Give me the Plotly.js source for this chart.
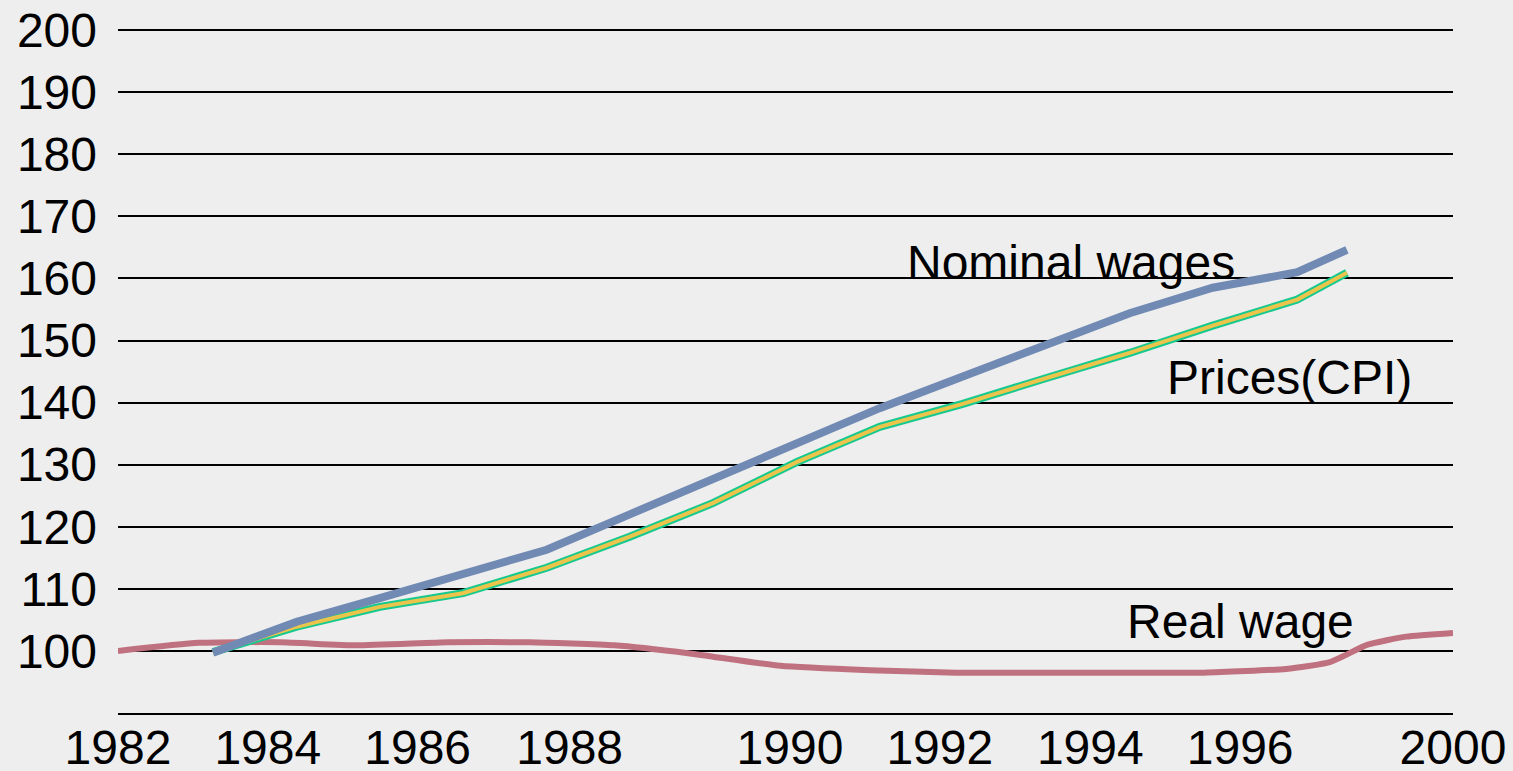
<!DOCTYPE html>
<html>
<head>
<meta charset="utf-8">
<script src="https://cdn.plot.ly/plotly-3.0.1.min.js"></script>
<style>
  html, body { margin: 0; padding: 0; background: #eeeeee; }
  #chart { width: 1513px; height: 771px; }
</style>
</head>
<body>
<div id="chart"></div>
<script>
// Nominal wages and CPI share the same x positions (axis units)
const wageYears = [1983.28, 1984.41, 1985.53, 1986.65, 1987.78, 1988.90, 1990.02, 1991.15, 1992.27, 1993.39, 1994.53, 1995.64, 1996.76, 1997.90, 1998.57];
const nominalWages = [99.7, 104.7, 108.5, 112.4, 116.3, 122.0, 127.7, 133.4, 139.1, 144.2, 149.3, 154.4, 158.5, 161.0, 164.6];
const cpi = [99.8, 103.9, 107.1, 109.3, 113.4, 118.4, 123.8, 130.4, 136.1, 139.8, 144.0, 148.0, 152.4, 156.6, 160.9];

const realYears = [1982.00, 1983.09, 1984.18, 1985.21, 1986.46, 1987.55, 1988.69, 1989.71, 1990.93, 1992.14, 1993.30, 1995.24, 1996.64, 1997.75, 1998.34, 1998.85, 1999.37, 2000.00];
const realWage = [100.0, 101.3, 101.4, 100.9, 101.4, 101.4, 100.9, 99.6, 97.6, 96.9, 96.5, 96.5, 96.5, 97.1, 98.2, 101.0, 102.3, 102.9];

// x tick labels as printed on the original (unevenly placed, 1998 not printed)
const xTickLabels = ["1982", "1984", "1986", "1988", "1990", "1992", "1994", "1996", "2000"];
const xTickAt = [1982.00, 1984.02, 1986.04, 1988.09, 1991.06, 1993.08, 1995.11, 1997.13, 2000.00];
const yTicks = [100, 110, 120, 130, 140, 150, 160, 170, 180, 190, 200];

const seriesLabels = ["Nominal wages", "Prices(CPI)", "Real wage"];

const traces = [
  { x: realYears, y: realWage, mode: 'lines', line: { color: '#c0717f', width: 6, shape: 'spline', smoothing: 0.5 }, name: seriesLabels[2] },
  { x: wageYears, y: cpi, mode: 'lines', line: { color: '#17c98f', width: 8 }, name: seriesLabels[1] },
  { x: wageYears, y: cpi, mode: 'lines', line: { color: '#ebc54b', width: 4 }, name: seriesLabels[1] },
  { x: wageYears, y: nominalWages, mode: 'lines', line: { color: '#718ab4', width: 8 }, name: seriesLabels[0] }
];

const layout = {
  width: 1513,
  height: 771,
  paper_bgcolor: '#eeeeee',
  plot_bgcolor: '#eeeeee',
  showlegend: false,
  margin: { l: 118, r: 60, t: 27, b: 58 },
  font: { family: 'Liberation Sans, Arial, sans-serif', color: '#000000', size: 48 },
  xaxis: {
    range: [1982, 2000],
    tickvals: xTickAt,
    ticktext: xTickLabels,
    showgrid: false,
    zeroline: false,
    showline: true,
    linecolor: '#000000',
    linewidth: 2,
    ticks: '',
    ticklen: 0,
    ticklabelstandoff: -9,
    tickfont: { size: 48 }
  },
  yaxis: {
    range: [90, 200.5],
    tickvals: yTicks,
    ticktext: yTicks.map(String),
    showgrid: true,
    gridcolor: '#000000',
    gridwidth: 2,
    zeroline: false,
    showline: false,
    ticks: '',
    ticklen: 0,
    ticklabelstandoff: 20,
    tickfont: { size: 48 }
  },
  annotations: [
    { x: 1992.61, y: 162.6, xref: 'x', yref: 'y', text: seriesLabels[0], showarrow: false, xanchor: 'left', yanchor: 'middle', font: { size: 48 } },
    { x: 1996.12, y: 144.0, xref: 'x', yref: 'y', text: seriesLabels[1], showarrow: false, xanchor: 'left', yanchor: 'middle', font: { size: 48 } },
    { x: 1995.58, y: 104.7, xref: 'x', yref: 'y', text: seriesLabels[2], showarrow: false, xanchor: 'left', yanchor: 'middle', font: { size: 48 } }
  ]
};

Plotly.newPlot('chart', traces, layout, { displayModeBar: false, staticPlot: true });
</script>
</body>
</html>
